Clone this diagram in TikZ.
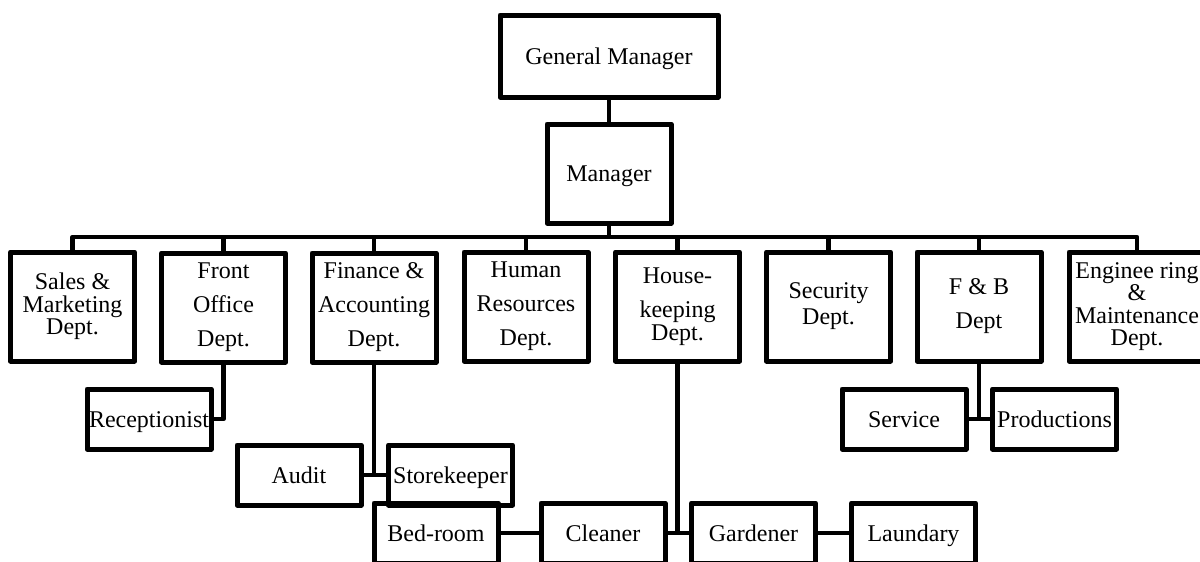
\documentclass[tikz,border=0pt]{standalone}
\usepackage{fontspec}
\setmainfont{Liberation Serif}
\begin{document}
\begin{tikzpicture}[x=0.5pt,y=-0.5pt,
  box/.style={draw, line width=2.5pt, line join=round, inner sep=0pt, align=center,
              minimum width=62pt, font=\fontsize{12}{11.25}\selectfont},
  dept/.style={box, minimum height=54.5pt},
  sub/.style={box, minimum height=30pt, text height=10.5pt, text depth=2.5pt},
  loose/.style={font=\fontsize{12}{17}\selectfont},
  link/.style={line width=2.3pt, line join=round}]
\useasboundingbox (0,0) rectangle (1200,562);

% top of the hierarchy
\node[box, minimum width=109pt, minimum height=41pt, text height=10.5pt, text depth=2.5pt] (gm) at (609,56) {General Manager};
\node[box, minimum height=49.5pt, text height=10.5pt, text depth=2.5pt] (mgr) at (609,173.5) {Manager};

% departments
\node[dept] (sales) at (72.5,306.5) {Sales \&\\Marketing\\Dept.};
\node[dept, loose] (front) at (223.5,307.5) {Front\\Office\\Dept.};
\node[dept, loose] (fin) at (374,307.5) {Finance \&\\Accounting\\Dept.};
\node[dept, loose] (hr) at (526,306.5) {Human\\Resources\\Dept.};
\node[dept] (hk) at (677.5,306.5) {House-\\[5.75pt]keeping\\Dept.};
\node[dept] (sec) at (828.5,306.5) {Security\\[1.75pt]Dept.};
\node[dept, loose] (fb) at (979,306.5) {F \& B\\Dept};
\node[dept, minimum width=68pt] (eng) at (1137,306.5) {Enginee ring\\\&\\Maintenance\\Dept.};

% staff
\node[sub] (recep) at (149,419) {Receptionist};
\node[sub] (audit) at (299,475) {Audit};
\node[sub] (store) at (450.5,475) {Storekeeper};
\node[sub] (bed) at (436,533) {Bed-room};
\node[sub] (clean) at (603,533) {Cleaner};
\node[sub] (garden) at (753.5,533) {Gardener};
\node[sub] (laundry) at (913.5,533) {Laundary};
\node[sub] (serv) at (904,419) {Service};
\node[sub] (prod) at (1054.5,419) {Productions};

% connectors
\coordinate (bus) at (609,237);
\draw[link] (gm) -- (mgr);
\draw[link] (mgr) -- (bus);
\draw[link] (sales.north) |- (eng.north |- bus) -- (eng.north);
\foreach \d in {front,fin,hr,hk,sec,fb}
  \draw[link] (\d.north) -- (\d.north |- bus);

\draw[link] (front.south) |- (recep.east);
\draw[link] (fin.south) -- (fin.south |- audit.east);
\draw[link] (audit.east) -- (store.west);
\draw[link] (hk.south) -- (hk.south |- clean.east);
\draw[link] (bed.east) -- (clean.west);
\draw[link] (clean.east) -- (garden.west);
\draw[link] (garden.east) -- (laundry.west);
\draw[link] (fb.south) -- (fb.south |- serv.east);
\draw[link] (serv.east) -- (prod.west);
\end{tikzpicture}
\end{document}
